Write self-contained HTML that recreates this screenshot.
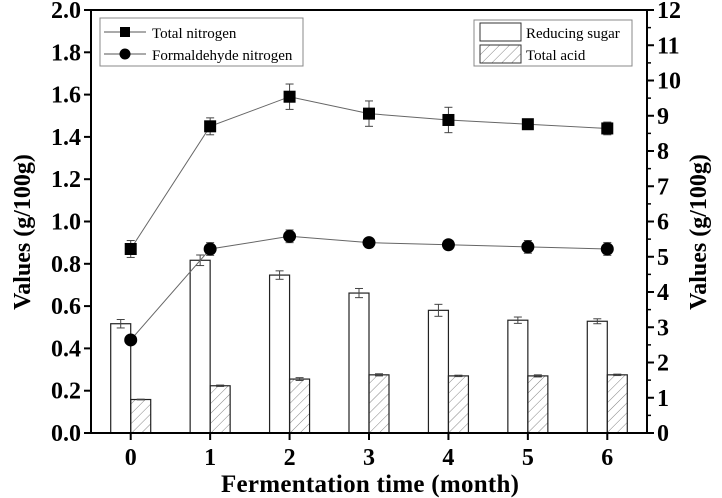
<!DOCTYPE html>
<html><head><meta charset="utf-8"><style>
html,body{margin:0;padding:0;background:#fff;}
svg{display:block;font-family:"Liberation Serif",serif;}
</style></head><body>
<svg id="chart" width="722" height="498" viewBox="0 0 722 498">
<defs><pattern id="hatch" patternUnits="userSpaceOnUse" width="7" height="7" patternTransform="rotate(45)"><line x1="0" y1="0" x2="0" y2="7" stroke="#666" stroke-width="0.8"/></pattern></defs>
<g id="bars"></g><g id="lines"></g><g id="axes"></g>
<g>
<rect x="100" y="18" width="203" height="48" fill="#fff" stroke="#888" stroke-width="1"/>
<line x1="104" y1="32" x2="146" y2="32" stroke="#555"/><rect x="120" y="27" width="10" height="10" fill="#000"/>
<text x="152" y="38" font-size="15">Total nitrogen</text>
<line x1="104" y1="54" x2="146" y2="54" stroke="#555"/><circle cx="125" cy="54" r="5.5" fill="#000"/>
<text x="152" y="60" font-size="15">Formaldehyde nitrogen</text>
</g>
<g>
<rect x="474" y="20" width="158" height="46" fill="#fff" stroke="#888" stroke-width="1"/>
<rect x="480" y="23" width="41" height="18" fill="#fff" stroke="#333"/>
<text x="526" y="38" font-size="15">Reducing sugar</text>
<rect x="480" y="45" width="41" height="18" fill="url(#hatch)" stroke="#333"/>
<text x="526" y="60" font-size="15">Total acid</text>
</g>
<text x="370" y="492" font-size="25" font-weight="bold" text-anchor="middle" textLength="298">Fermentation time (month)</text>
<text transform="translate(30,232) rotate(-90)" font-size="24" font-weight="bold" text-anchor="middle">Values (g/100g)</text>
<text transform="translate(706,232) rotate(-90)" font-size="24" font-weight="bold" text-anchor="middle">Values (g/100g)</text>
</svg>
<script>
const months=[0,1,2,3,4,5,6];
const totalN=[0.87,1.45,1.59,1.51,1.48,1.46,1.44];
const totalNErr=[0.04,0.04,0.06,0.06,0.06,0.01,0.03];
const formN=[0.44,0.87,0.93,0.90,0.89,0.88,0.87];
const formNErr=[0.01,0.03,0.03,0.02,0.01,0.03,0.03];
const sugar=[3.10,4.90,4.48,3.97,3.48,3.20,3.17];
const sugarErr=[0.12,0.15,0.12,0.13,0.17,0.09,0.07];
const acid=[0.95,1.34,1.53,1.65,1.62,1.62,1.65];
const acidErr=[0.01,0.02,0.04,0.03,0.02,0.03,0.02];
const leftTicks=["0.0","0.2","0.4","0.6","0.8","1.0","1.2","1.4","1.6","1.8","2.0"];
const rightTicks=["0","1","2","3","4","5","6","7","8","9","10","11","12"];
const X0=91,X1=647,Y0=433,Y1=10;
const xs=m=>X0+(m+0.5)/7*(X1-X0);
const yl=v=>Y0-v/2*(Y0-Y1);
const yr=v=>Y0-v/12*(Y0-Y1);
const NS="http://www.w3.org/2000/svg";
function mk(t,a,p){const e=document.createElementNS(NS,t);for(const k in a)e.setAttribute(k,a[k]);p.appendChild(e);return e;}
const gb=document.getElementById('bars'),gl=document.getElementById('lines'),ga=document.getElementById('axes');
function err(x,y1,y2,p){mk('line',{x1:x,y1:y1,x2:x,y2:y2,stroke:'#444','stroke-width':1},p);mk('line',{x1:x-4,y1:y1,x2:x+4,y2:y1,stroke:'#444','stroke-width':1},p);mk('line',{x1:x-4,y1:y2,x2:x+4,y2:y2,stroke:'#444','stroke-width':1},p);}
months.forEach((m,i)=>{
 const x=xs(m);
 let r=mk('rect',{x:x-20,y:yr(sugar[i]),width:20,height:Y0-yr(sugar[i]),fill:'#fff',stroke:'#222','stroke-width':1.2},gb);
 
 
 err(x-10,yr(sugar[i]+sugarErr[i]),yr(sugar[i]-sugarErr[i]),gb);
 let a=mk('rect',{x:x,y:yr(acid[i]),width:20,height:Y0-yr(acid[i]),fill:'url(#hatch)',stroke:'#222','stroke-width':1.2},gb);
 
 
 err(x+10,yr(acid[i]+acidErr[i]),yr(acid[i]-acidErr[i]),gb);
});
function series(vals,errs,sq,name){
 mk('polyline',{points:months.map((m,i)=>xs(m)+','+yl(vals[i])).join(' '),fill:'none',stroke:'#666','stroke-width':1},gl);
 months.forEach((m,i)=>{const x=xs(m),y=yl(vals[i]);err(x,yl(vals[i]+errs[i]),yl(vals[i]-errs[i]),gl);
  let p=sq?mk('rect',{x:x-6,y:y-6,width:12,height:12,fill:'#000'},gl):mk('circle',{cx:x,cy:y,r:6.5,fill:'#000'},gl);
  
  });
}
series(totalN,totalNErr,true,'total-nitrogen');
series(formN,formNErr,false,'formaldehyde-nitrogen');
mk('rect',{x:X0,y:Y1,width:X1-X0,height:Y0-Y1,fill:'none',stroke:'#000','stroke-width':2},ga);
leftTicks.forEach((t,i)=>{const y=yl(i*0.2);mk('line',{x1:X0-7,y1:y,x2:X0,y2:y,stroke:'#000','stroke-width':2},ga);
 const tx=mk('text',{x:X0-10,y:y+8,'font-size':24,'font-weight':'bold','text-anchor':'end'},ga);tx.textContent=t;
 
 });
rightTicks.forEach((t,i)=>{const y=yr(i);mk('line',{x1:X1,y1:y,x2:X1+7,y2:y,stroke:'#000','stroke-width':2},ga);
 if(i<12)mk('line',{x1:X1,y1:yr(i+0.5),x2:X1+4,y2:yr(i+0.5),stroke:'#000','stroke-width':1.5},ga);
 const tx=mk('text',{x:X1+10,y:y+8,'font-size':24,'font-weight':'bold'},ga);tx.textContent=t;
 
 });
months.forEach(m=>{const x=xs(m);mk('line',{x1:x,y1:Y0,x2:x,y2:Y0+7,stroke:'#000','stroke-width':2},ga);
 const tx=mk('text',{x:x,y:Y0+32,'font-size':24,'font-weight':'bold','text-anchor':'middle'},ga);tx.textContent=m;
 
 });
</script>
</body></html>
